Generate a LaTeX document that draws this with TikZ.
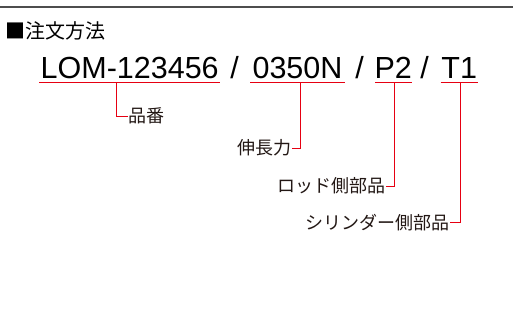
\documentclass[tikz,border=0pt]{standalone}
\usepackage{fontspec}
\setmainfont{Liberation Sans}
\newfontfamily\jpfont{Noto Sans CJK JP}
\definecolor{accred}{HTML}{E60012}
\definecolor{txtgray}{HTML}{231815}
\definecolor{rulegray}{HTML}{4D4D4D}
\begin{document}
\begin{tikzpicture}[x=1pt,y=-1pt,
  codetext/.style={inner sep=0pt, anchor=base, font=\fontsize{30.5}{32}\selectfont, text=black},
  lbl/.style={inner sep=0pt, font=\jpfont\fontsize{18}{20}\selectfont, text=txtgray},
  ttl/.style={inner sep=0pt, anchor=west, font=\jpfont\fontsize{20}{22}\selectfont, text=black},
  redline/.style={draw=accred, line width=1pt},
  topline/.style={draw=rulegray, line width=1.4pt}]
\useasboundingbox (0,0) rectangle (513,333);
\fill[white] (0,0) rectangle (513,333);
\coordinate (tl) at (0,7);
\coordinate (tr) at (513,7);
\draw[topline] (tl) -- (tr);
\node[ttl] (title) at (5,31) {■注文方法};
% code segments
\node[codetext] (s1) at (129.7,78) {LOM-123456};
\node[codetext] (d1) at (234.5,78) {/};
\node[codetext] (s2) at (297.5,78) {0350N};
\node[codetext] (d2) at (359.5,78) {/};
\node[codetext] (s3) at (393.3,78) {P2};
\node[codetext] (d3) at (424.5,78) {/};
\node[codetext] (s4) at (459.2,78) {T1};
% underline coordinates
\coordinate (u1a) at (39.3,82); \coordinate (u1b) at (220,82);
\coordinate (u2a) at (250,82); \coordinate (u2b) at (345,82);
\coordinate (u3a) at (375,82); \coordinate (u3b) at (411.7,82);
\coordinate (u4a) at (440.7,82); \coordinate (u4b) at (477.7,82);
\draw[redline] (u1a) -- (u1b);
\draw[redline] (u2a) -- (u2b);
\draw[redline] (u3a) -- (u3b);
\draw[redline] (u4a) -- (u4b);
% branch points
\coordinate (b1) at (116,82);
\coordinate (b2) at (300.7,82);
\coordinate (b3) at (394,82);
\coordinate (b4) at (460,82);
% labels
\node[lbl, anchor=west] (l1) at (128,116) {品番};
\node[lbl, anchor=east] (l2) at (291.5,148) {伸長力};
\node[lbl, anchor=east] (l3) at (386,186) {ロッド側部品};
\node[lbl, anchor=east] (l4) at (450,222.3) {シリンダー側部品};
% connectors
\draw[redline] (b1) |- (l1.west);
\draw[redline] (b2) |- (l2.east);
\draw[redline] (b3) |- (l3.east);
\draw[redline] (b4) |- (l4.east);
\end{tikzpicture}
\end{document}
